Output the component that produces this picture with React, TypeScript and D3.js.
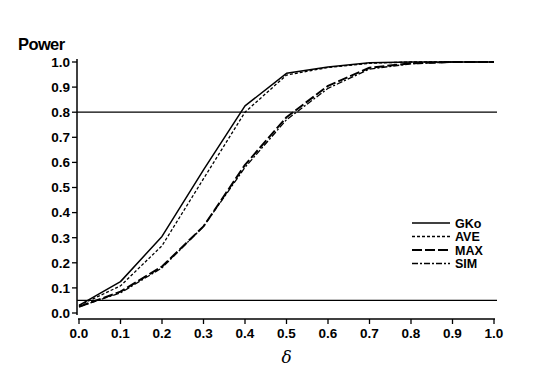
import React from "react";
import * as d3 from "d3";

const deltas = [0, 0.1, 0.2, 0.3, 0.4, 0.5, 0.6, 0.7, 0.8, 0.9, 1.0];
const gko = [0.03, 0.125, 0.305, 0.57, 0.825, 0.955, 0.98, 0.997, 1, 1, 1];
const ave = [0.03, 0.108, 0.268, 0.535, 0.8, 0.948, 0.978, 0.995, 1, 1, 1];
const maxv = [0.025, 0.085, 0.185, 0.345, 0.59, 0.78, 0.905, 0.977, 0.995, 1, 1];
const sim = [0.025, 0.08, 0.18, 0.345, 0.58, 0.77, 0.895, 0.972, 0.993, 1, 1];
const seriesNames = ["GKo", "AVE", "MAX", "SIM"];
const xTicks = [0, 0.1, 0.2, 0.3, 0.4, 0.5, 0.6, 0.7, 0.8, 0.9, 1.0];
const yTicks = [0, 0.1, 0.2, 0.3, 0.4, 0.5, 0.6, 0.7, 0.8, 0.9, 1.0];
const refLines = [0.8, 0.05];

const styles = [
  { w: 1.5, dash: "" },
  { w: 1.3, dash: "3,2" },
  { w: 2, dash: "10,3" },
  { w: 1.3, dash: "6,2,2,2" },
];

export default function App() {
  const W = 541, H = 379;
  const x = d3.scaleLinear().domain([0, 1]).range([79, 494]);
  const y = d3.scaleLinear().domain([0, 1]).range([313, 62]);
  const axisX = 77;
  const axisY = 319;
  const data = [gko, ave, maxv, sim];
  const line = d3.line<number>().x((_, i) => x(deltas[i])).y((d) => y(d));
  const font = "'Liberation Sans', Arial, sans-serif";
  return (
    <svg width={W} height={H} style={{ position: "absolute", left: 0, top: 0, background: "#fff" }}>
      <rect width={W} height={H} fill="#fff" />
      {refLines.map((r) => (
        <line key={r} x1={axisX} x2={497} y1={y(r)} y2={y(r)} stroke="#000" strokeWidth={1.3} />
      ))}
      {data.map((d, i) => (
        <path key={i} d={line(d) || ""} fill="none" stroke="#000" strokeWidth={styles[i].w}
          strokeDasharray={styles[i].dash} strokeLinejoin="round" />
      ))}
      {/* y axis */}
      <line x1={axisX} x2={axisX} y1={y(1) - 3} y2={y(0) + 2} stroke="#000" strokeWidth={1.5} />
      {yTicks.map((t) => (
        <g key={t}>
          <line x1={axisX - 5} x2={axisX} y1={y(t)} y2={y(t)} stroke="#000" strokeWidth={1.3} />
          <text x={axisX - 7} y={y(t)} dy="0.36em" textAnchor="end" fontFamily={font}
            fontWeight="bold" fontSize={13.5}>{t.toFixed(1)}</text>
        </g>
      ))}
      {/* x axis */}
      <line x1={x(0) - 1} x2={x(1) + 1} y1={axisY} y2={axisY} stroke="#000" strokeWidth={1.5} />
      {xTicks.map((t) => (
        <g key={t}>
          <line x1={x(t)} x2={x(t)} y1={axisY} y2={axisY + 5} stroke="#000" strokeWidth={1.3} />
          <text x={x(t)} y={axisY + 19} textAnchor="middle" fontFamily={font}
            fontWeight="bold" fontSize={13.5}>{t.toFixed(1)}</text>
        </g>
      ))}
      <text x={18} y={50} fontFamily={font} fontSize={16.5} fontWeight="bold" letterSpacing={-0.6}>Power</text>
      <text x={x(0.5)} y={363} textAnchor="middle" fontFamily="'DejaVu Serif', serif" fontStyle="italic" fontSize={17}>δ</text>
      {/* legend */}
      {seriesNames.map((n, i) => {
        const ly = 223 + i * 13.5;
        return (
          <g key={n}>
            <line x1={412} x2={450} y1={ly} y2={ly} stroke="#000" strokeWidth={styles[i].w}
              strokeDasharray={styles[i].dash} />
            <text x={455} y={ly} dy="0.36em" fontFamily={font} fontWeight="bold" fontSize={12.5}>{n}</text>
          </g>
        );
      })}
    </svg>
  );
}
